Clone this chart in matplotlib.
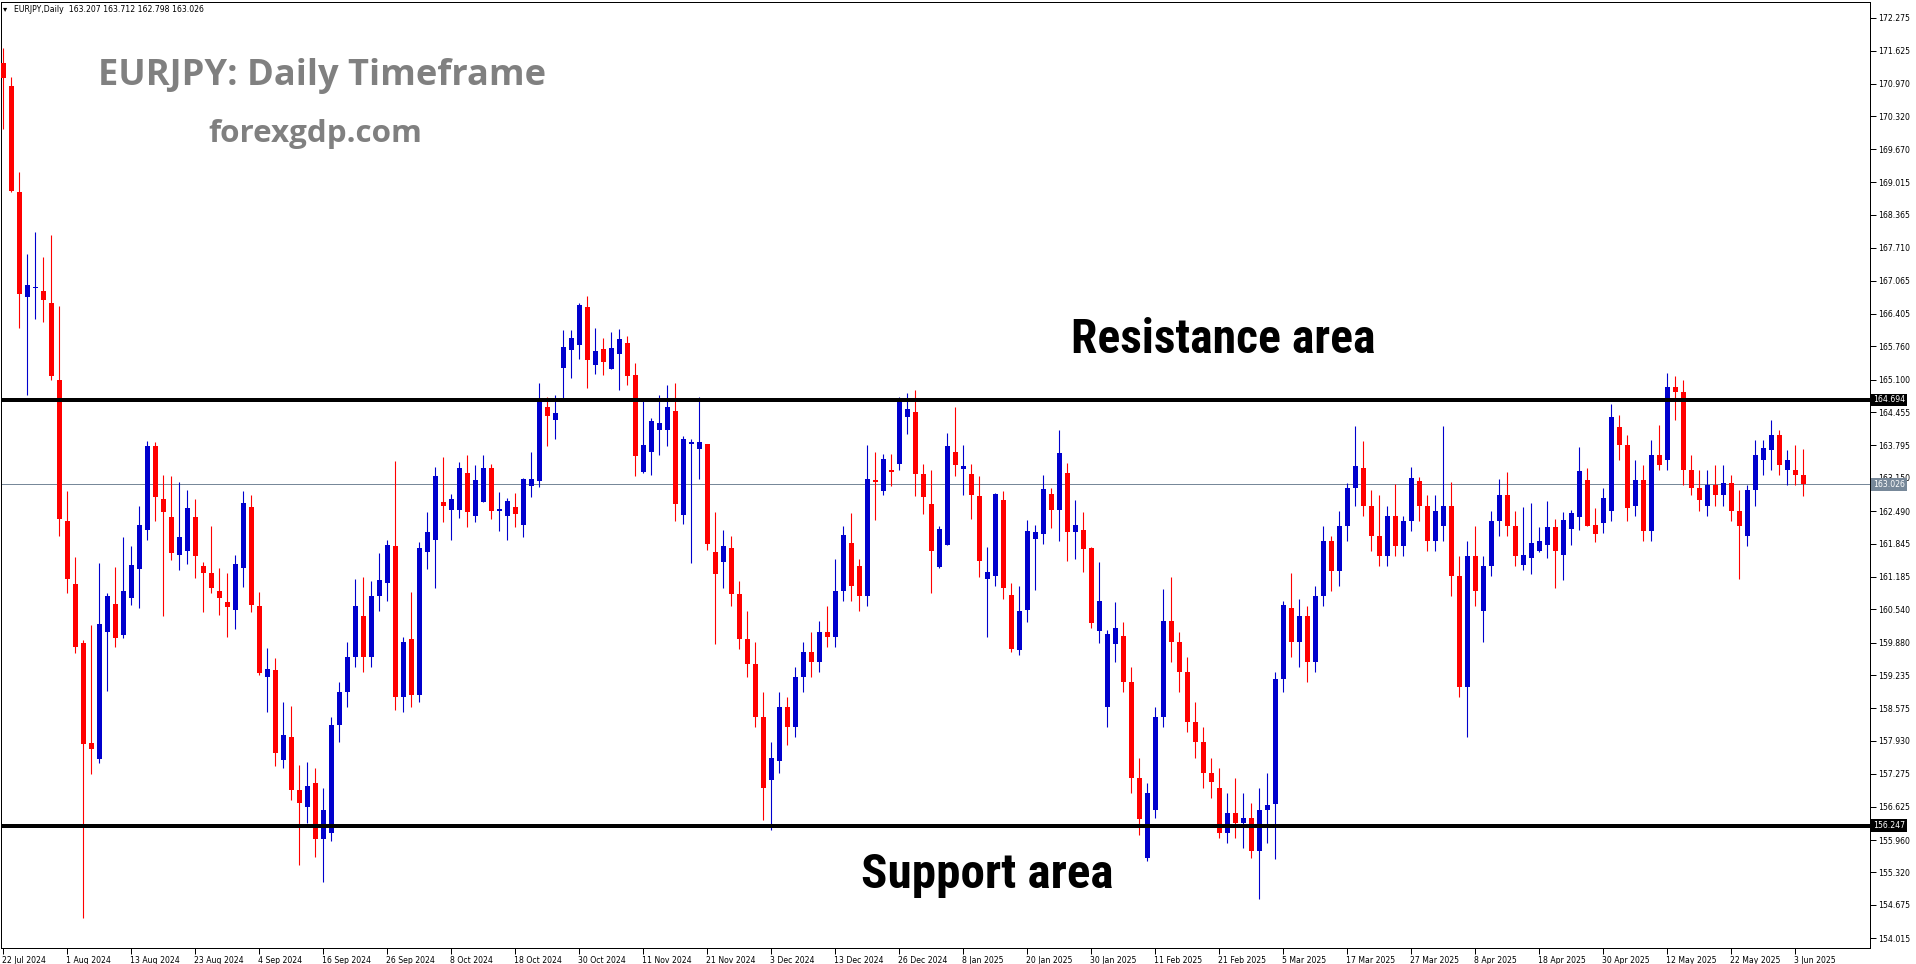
import matplotlib
matplotlib.use('Agg')
import matplotlib.pyplot as plt
import matplotlib.transforms as mtransforms
from matplotlib import font_manager
import numpy as np
import pandas as pd

W, H, DPI = 1916, 964, 100

# ---------------- data ----------------
holidays = ['2024-12-25', '2025-01-01']
dates = [d for d in pd.bdate_range('2024-07-22', '2025-06-04') if d.strftime('%Y-%m-%d') not in holidays]

opens = [
 171.39,170.93,168.82,166.74,166.91,166.85,166.62,165.09,162.29,161.05,
 159.87,157.88,157.57,160.10,160.65,160.03,160.77,161.35,162.11,163.79,
 162.72,162.37,161.61,161.69,162.38,161.40,161.27,160.91,160.69,160.52,
 161.37,162.58,160.61,159.19,159.34,157.56,158.00,156.95,156.61,157.10,
 155.98,156.10,158.25,158.90,159.60,160.41,159.60,160.80,161.07,161.80,
 158.80,159.95,158.85,161.68,161.92,162.68,162.52,162.52,163.25,162.40,
 162.68,163.35,162.50,162.40,162.58,162.21,162.99,163.08,164.56,164.30,
 165.32,165.69,165.78,166.53,165.39,165.71,165.31,165.61,165.83,165.19,
 163.26,163.66,164.10,164.10,164.48,162.41,163.82,163.72,163.82,161.68,
 161.48,161.76,160.85,159.95,159.45,158.40,157.15,157.54,158.60,158.20,
 159.20,159.70,159.50,160.10,160.00,160.90,161.86,161.40,160.80,163.11,
 162.89,163.31,163.43,164.36,164.46,163.23,162.64,161.39,161.82,163.67,
 163.33,163.23,162.79,161.15,161.21,162.71,160.83,159.74,160.53,161.94,
 162.04,162.83,162.52,163.25,162.08,162.12,161.76,160.11,158.60,159.86,
 160.02,159.10,157.20,155.60,156.56,158.40,160.30,159.90,159.30,158.30,
 157.90,157.30,157.00,156.10,156.50,156.30,156.40,155.75,156.55,156.67,
 159.15,160.57,159.90,160.40,159.50,160.80,161.90,161.30,162.20,162.95,
 163.35,162.60,162.00,161.60,162.40,161.80,162.30,163.09,162.60,161.90,
 162.20,162.60,161.20,159.00,161.60,160.50,161.40,162.30,162.80,162.20,
 161.42,161.55,161.70,161.82,162.17,161.62,162.14,162.37,163.11,162.21,
 162.25,162.50,164.15,163.80,162.60,163.10,162.10,163.60,163.50,164.95,
 164.86,163.30,162.95,162.60,163.00,162.80,163.05,162.50,162.00,162.90,
 163.50,163.70,164.00,163.30,163.30,163.207]
highs = [
 171.68,171.11,169.22,167.60,168.03,167.53,167.97,166.56,162.89,161.58,
 159.94,160.22,161.45,160.86,161.39,161.97,161.80,162.60,163.89,163.86,
 163.21,163.19,163.07,162.91,162.72,161.48,162.19,161.37,161.27,161.62,
 162.89,162.80,160.89,159.78,159.58,158.71,158.63,157.45,157.52,157.40,
 157.00,158.40,159.10,159.90,161.15,161.19,161.11,161.66,161.92,163.49,
 160.00,160.89,161.88,162.48,163.37,163.57,162.82,163.47,163.61,163.41,
 163.61,163.43,162.87,162.75,162.85,163.15,163.67,165.04,164.76,164.80,
 166.09,166.09,166.61,166.75,166.12,165.92,166.04,166.10,165.96,165.43,
 164.67,164.34,164.79,164.99,165.03,163.98,163.92,164.75,163.82,162.47,
 162.11,161.99,161.10,160.50,159.90,158.90,157.90,158.90,158.80,159.40,
 159.90,160.10,160.30,160.60,161.54,162.20,162.46,161.54,163.81,163.67,
 163.63,163.63,164.76,164.84,164.90,163.43,163.31,162.20,164.03,164.56,
 163.81,163.43,163.19,161.78,162.85,162.89,161.07,161.01,162.32,162.22,
 163.21,162.95,164.09,163.45,162.70,162.48,161.78,161.48,160.13,160.69,
 160.29,159.40,157.60,157.10,158.60,160.95,161.19,160.10,159.60,158.70,
 158.20,157.60,157.40,156.90,157.20,156.90,156.70,157.00,157.30,159.30,
 160.71,161.27,160.75,160.60,161.00,162.20,162.00,162.50,163.05,164.18,
 163.89,162.90,162.80,162.60,163.03,162.40,163.37,163.17,162.80,162.80,
 164.18,163.07,161.60,161.90,162.20,161.60,162.50,163.13,163.27,162.50,
 162.57,162.65,162.17,162.69,162.33,162.47,162.51,163.77,163.35,162.55,
 162.95,164.62,164.40,164.00,163.50,163.40,163.90,164.20,165.23,165.18,
 165.10,163.60,163.30,163.30,163.40,163.40,163.20,162.90,163.00,163.90,
 163.90,164.30,164.10,163.70,163.80,163.712]
lows = [
 170.07,168.83,166.13,164.80,166.31,166.24,165.09,161.99,160.86,159.68,
 154.41,157.28,157.50,158.92,159.79,159.98,160.62,160.56,161.92,162.29,
 160.40,161.51,161.33,161.44,161.17,160.48,160.86,160.42,160.00,160.16,
 160.99,160.48,159.23,158.51,157.44,157.40,156.76,155.46,156.30,155.62,
 155.14,155.95,157.90,158.60,159.40,159.30,159.40,160.50,160.71,158.55,
 158.50,158.60,158.70,161.35,160.97,162.27,161.92,162.36,162.17,162.27,
 162.68,162.33,162.09,161.92,162.17,161.97,162.76,162.97,163.79,163.93,
 164.71,165.14,165.50,164.93,165.21,165.19,165.31,164.89,164.99,163.19,
 163.24,163.20,163.60,163.78,162.29,162.23,161.46,163.13,161.72,159.85,
 160.96,160.60,159.75,159.20,158.20,156.36,156.17,157.30,157.85,158.00,
 158.90,159.20,159.30,159.80,159.80,160.70,160.70,160.50,160.60,162.32,
 162.81,162.99,163.31,164.01,162.79,162.44,160.87,161.37,161.82,163.19,
 162.81,162.34,161.19,159.99,161.01,160.75,159.70,159.64,160.29,160.93,
 161.84,162.16,161.90,161.50,161.54,161.29,160.17,159.88,158.20,159.50,
 158.90,156.90,156.07,155.55,156.40,158.20,159.50,158.90,158.10,157.60,
 157.00,156.80,156.00,155.90,156.00,155.80,155.60,154.79,155.90,155.58,
 158.90,159.60,159.40,159.10,159.30,160.60,160.90,161.00,161.90,162.60,
 162.40,161.70,161.40,161.40,161.60,161.60,162.10,162.30,161.70,161.70,
 161.90,160.80,158.80,158.00,160.60,159.90,161.20,162.00,162.00,161.40,
 161.32,161.25,161.68,161.55,160.97,161.13,161.82,162.12,162.19,161.88,
 162.05,162.30,163.50,162.30,162.40,161.90,161.90,163.30,163.30,164.30,
 163.00,162.80,162.50,162.40,162.60,162.60,162.30,161.15,161.80,162.60,
 163.20,163.30,163.20,163.00,163.00,162.798]
closes = [
 171.08,168.85,166.80,166.97,166.94,166.67,165.18,162.33,161.14,159.80,
 157.86,157.76,160.25,160.81,159.98,160.91,161.43,162.22,163.79,162.76,
 162.48,161.65,161.98,162.56,161.59,161.27,160.97,160.76,160.58,161.44,
 162.66,160.62,159.27,159.36,157.69,158.05,156.95,156.70,157.04,155.98,
 156.55,158.25,158.90,159.60,160.61,159.60,160.80,161.13,161.82,158.80,
 159.90,158.85,161.76,162.08,163.19,162.60,162.72,163.35,162.48,163.11,
 163.35,162.50,162.54,162.69,162.44,163.13,163.13,164.67,164.38,164.44,
 165.75,165.93,166.57,165.48,165.67,165.45,165.73,165.90,165.17,163.58,
 163.80,164.28,164.24,164.55,162.63,163.92,163.86,163.86,161.84,161.24,
 161.79,160.85,159.95,159.45,158.40,157.00,157.60,158.60,158.20,159.20,
 159.70,159.50,160.10,160.00,160.90,162.02,161.00,160.80,163.13,163.07,
 163.53,163.27,164.68,164.52,163.23,162.76,161.70,162.14,163.79,163.41,
 163.39,162.81,161.50,161.29,162.83,160.97,159.76,160.51,162.10,162.08,
 162.93,162.52,163.65,162.08,162.22,161.74,160.27,160.71,160.06,160.17,
 159.10,157.20,156.38,156.90,158.40,160.31,159.90,159.30,158.30,157.90,
 157.30,157.12,156.10,156.50,156.30,156.40,155.75,156.55,156.66,159.15,
 160.63,159.90,160.40,159.50,160.80,161.90,161.30,162.20,162.95,163.39,
 162.60,162.00,161.60,162.40,161.80,162.30,163.15,162.60,161.90,162.50,
 162.60,161.20,159.00,161.60,160.90,161.40,162.30,162.80,162.20,161.60,
 161.62,161.85,161.90,162.17,161.70,162.31,162.45,163.29,162.19,162.04,
 162.75,164.35,163.80,162.55,163.10,162.10,163.60,163.40,164.95,164.85,
 163.30,162.95,162.70,163.00,162.80,163.05,162.50,162.20,162.90,163.60,
 163.75,164.00,163.40,163.50,163.20,163.026]

resistance_level = 164.694
support_level = 156.247
last_price = 163.026
y_tick_labels = ['172.275','171.625','170.970','170.320','169.670','169.015','168.365',
                 '167.710','167.065','166.405','165.760','165.100','164.455','163.795',
                 '163.150','162.490','161.845','161.185','160.540','159.880','159.235',
                 '158.575','157.930','157.275','156.625','155.960','155.320','154.675','154.015']
header_text = 'EURJPY,Daily  163.207 163.712 162.798 163.026'
title_text = 'EURJPY: Daily Timeframe'
site_text = 'forexgdp.com'
res_text = 'Resistance area'
sup_text = 'Support area'

# ---------------- layout ----------------
PPU = 50.4          # pixels per price unit
Y_REF = 400.0       # pixel row of resistance line
def price_at(py):
    return resistance_level - (py - Y_REF) / PPU

LEFT_PX, RIGHT_PX, TOP_PX, BOT_PX = 1, 1870, 2, 948
BAR_PX, X0_PX = 8.0, 3.3

fig = plt.figure(figsize=(W / DPI, H / DPI), dpi=DPI)
fig.patch.set_facecolor('white')
ax = fig.add_axes([LEFT_PX / W, (H - BOT_PX) / H, (RIGHT_PX - LEFT_PX) / W, (BOT_PX - TOP_PX) / H])
ax.set_facecolor('white')
ax.set_xlim((LEFT_PX - X0_PX) / BAR_PX, (RIGHT_PX - X0_PX) / BAR_PX)
ax.set_ylim(price_at(BOT_PX), price_at(TOP_PX))

n = len(dates)
x = np.arange(n)
o = np.array(opens); hi = np.array(highs); lo = np.array(lows); c = np.array(closes)
up = c >= o
cols = np.where(up, '#0000CD', '#FF0000')

px = 72.0 / DPI  # one pixel in points
ax.vlines(x, lo, hi, colors=cols, linewidth=1.1 * px, zorder=3)
body_bottom = np.minimum(o, c)
body_h = np.maximum(np.abs(c - o), 1.2 / PPU)
ax.bar(x, body_h, bottom=body_bottom, width=0.62, color=cols, linewidth=0, zorder=4)

# level lines
ax.axhline(resistance_level, color='black', linewidth=4 * px, zorder=5)
ax.axhline(support_level, color='black', linewidth=4 * px, zorder=5)
ax.axhline(last_price, color='#778899', linewidth=1 * px, zorder=2)

# spines and ticks
for s in ax.spines.values():
    s.set_color('black')
    s.set_linewidth(1 * px)
ax.yaxis.tick_right()
ax.set_yticks([float(v) for v in y_tick_labels])
ax.set_yticklabels(y_tick_labels)
ax.tick_params(axis='y', which='both', length=4, width=1 * px, pad=2, labelsize=5.6, colors='black', direction='out')
xt = list(range(0, n, 8))
ax.set_xticks(xt)
ax.set_xticklabels([f"{dates[i].day} {dates[i].strftime('%b %Y')}" for i in xt], ha='left')
ax.tick_params(axis='x', length=4, width=1 * px, pad=1.5, labelsize=5.6, colors='black', direction='out')
for lab in ax.get_xticklabels():
    lab.set_transform(lab.get_transform() + mtransforms.ScaledTranslation(-1 / DPI, 0, fig.dpi_scale_trans))

# price boxes on the right axis
btrans = mtransforms.blended_transform_factory(ax.transAxes, ax.transData)
for val, fc, tc in [(resistance_level, 'black', 'white'), (support_level, 'black', 'white'),
                    (last_price, '#778899', 'white')]:
    ax.text(1.0 + 3 / (RIGHT_PX - LEFT_PX), val, f'{val:.3f}', transform=btrans, ha='left', va='center',
            fontsize=5.6, color=tc, zorder=10, clip_on=False,
            bbox=dict(boxstyle='square,pad=0.25', fc=fc, ec=fc, lw=0))

# texts
fig.text(14 / W, 1 - 9 / H, header_text, ha='left', va='center', fontsize=5.6, color='black')
fig.text(3 / W, 1 - 9 / H, '\u25BE', ha='left', va='center', fontsize=6, color='black')

fig.canvas.draw()
renderer = fig.canvas.get_renderer()

# choose a narrow bold family if one is installed
installed = {f.name for f in font_manager.fontManager.ttflist}
narrow = [f for f in ['Liberation Sans Narrow', 'Roboto Condensed', 'Open Sans Condensed',
                      'Noto Sans Condensed', 'DejaVu Sans Condensed', 'Arial Narrow'] if f in installed]
narrow_family = narrow[:1] + ['Open Sans', 'DejaVu Sans']

def fit_text(s, x0, x1, yc, color, weight='bold', family=('DejaVu Sans',), stretch='normal'):
    t = fig.text(x0 / W, 1 - yc / H, s, ha='left', va='center', fontsize=20, color=color,
                 weight=weight, family=list(family), stretch=stretch)
    bb = t.get_window_extent(renderer=renderer)
    t.set_fontsize(20 * (x1 - x0) / bb.width)
    return t

fit_text(title_text, 98, 546, 76, '#808080', family=['Open Sans', 'DejaVu Sans'])
fit_text(site_text, 208, 422, 134, '#808080', family=['Open Sans', 'DejaVu Sans'])
fit_text(res_text, 1071, 1374, 340, 'black', family=narrow_family, stretch='condensed')
fit_text(sup_text, 861, 1112, 875, 'black', family=narrow_family, stretch='condensed')

fig.savefig('out.png', dpi=DPI, facecolor='white')
